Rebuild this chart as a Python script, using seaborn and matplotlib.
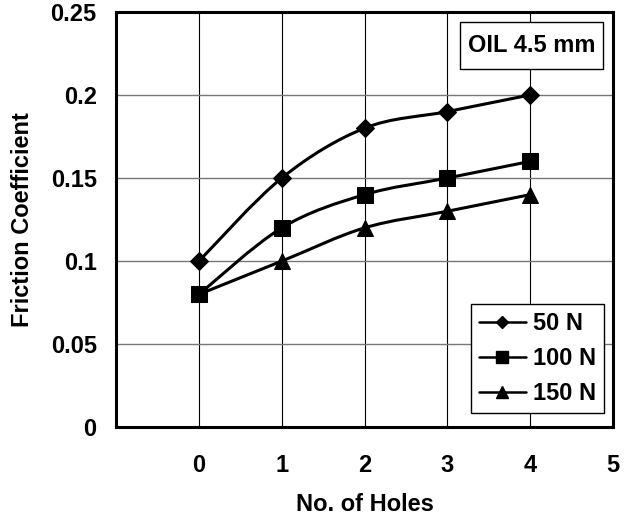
import numpy as np
import pandas as pd
import seaborn as sns
import matplotlib.pyplot as plt
from matplotlib.path import Path
from matplotlib.patches import PathPatch, Rectangle
from matplotlib.lines import Line2D

holes = [0, 1, 2, 3, 4]
f_50 = [0.10, 0.15, 0.18, 0.19, 0.20]
f_100 = [0.08, 0.12, 0.14, 0.15, 0.16]
f_150 = [0.08, 0.10, 0.12, 0.13, 0.14]
loads = ["50 N", "100 N", "150 N"]
markers = ["D", "s", "^"]
msizes = [9, 12, 12]

df = pd.DataFrame({"holes": holes * 3,
                   "friction": f_50 + f_100 + f_150,
                   "load": [l for l in loads for _ in holes]})

sns.set_style("white")
plt.rcParams['font.family'] = ['Liberation Sans', 'DejaVu Sans']
plt.rcParams['font.weight'] = 'bold'
plt.rcParams['text.color'] = 'black'
plt.rcParams['axes.labelcolor'] = 'black'
plt.rcParams['xtick.color'] = 'black'
plt.rcParams['ytick.color'] = 'black'

fig = plt.figure(figsize=(6.28, 5.16), dpi=100)
ax = fig.add_axes([0.185, 0.172, 0.791, 0.805])


def smooth_path(xs, ys):
    # Catmull-Rom style bezier, like the spreadsheet "smoothed line"
    pts = np.column_stack([xs, ys]).astype(float)
    n = len(pts)
    verts = [pts[0]]
    codes = [Path.MOVETO]
    for i in range(n - 1):
        p0 = pts[max(i - 1, 0)]
        p1 = pts[i]
        p2 = pts[i + 1]
        p3 = pts[min(i + 2, n - 1)]
        c1 = p1 + (p2 - p0) / 6.0
        c2 = p2 - (p3 - p1) / 6.0
        verts += [c1, c2, p2]
        codes += [Path.CURVE4] * 3
    return Path(verts, codes)


for load, mk, ms in zip(loads, markers, msizes):
    sub = df[df["load"] == load]
    ax.add_patch(PathPatch(smooth_path(sub["holes"], sub["friction"]),
                           facecolor="none", edgecolor="black", lw=2.2, zorder=3))
    sns.lineplot(data=sub, x="holes", y="friction", ax=ax, color="black",
                 marker=mk, markersize=ms, linestyle="", markeredgecolor="black",
                 zorder=4, legend=False)

ax.set_xlim(-1, 5)
ax.set_ylim(0, 0.25)
ax.set_xticks([-1, 0, 1, 2, 3, 4, 5])
ax.set_xticklabels(["", "0", "1", "2", "3", "4", "5"])
ax.set_yticks([0, 0.05, 0.1, 0.15, 0.2, 0.25])
ax.set_yticklabels(["0", "0.05", "0.1", "0.15", "0.2", "0.25"])
ax.xaxis.grid(True, color="black", lw=0.8)
ax.yaxis.grid(True, color="#777777", lw=1.0)
ax.tick_params(axis="both", direction="out", length=6, width=0.8, color="black",
               labelsize=17, pad=8)
ax.tick_params(axis="x", pad=13)
for s in ax.spines.values():
    s.set_linewidth(2.2)
    s.set_color("black")
    s.set_zorder(6)

ax.set_xlabel("No. of Holes", fontsize=17, fontweight="bold", labelpad=12)
ax.set_ylabel("Friction Coefficient", fontsize=17, fontweight="bold", labelpad=12)

handles = [Line2D([0], [0], color="black", lw=1.8, marker=mk, markersize=ms * 0.7)
           for mk, ms in zip(markers, msizes)]
leg = ax.legend(handles, loads, loc="lower right", bbox_to_anchor=(0.982, 0.034),
                borderaxespad=0, fancybox=False, edgecolor="black", framealpha=1,
                prop={"size": 17, "weight": "bold"}, handlelength=1.95,
                handletextpad=0.3, labelspacing=0.5, borderpad=0.35)
leg.get_frame().set_linewidth(1.0)

ax.add_patch(Rectangle((0.692, 0.863), 0.288, 0.113, transform=ax.transAxes,
                       facecolor="white", edgecolor="black", lw=1.0, zorder=5))
ax.text(0.836, 0.919, "OIL 4.5 mm", transform=ax.transAxes, ha="center", va="center",
        fontsize=17, fontweight="bold", zorder=6)

fig.savefig("out.png", dpi=100)
